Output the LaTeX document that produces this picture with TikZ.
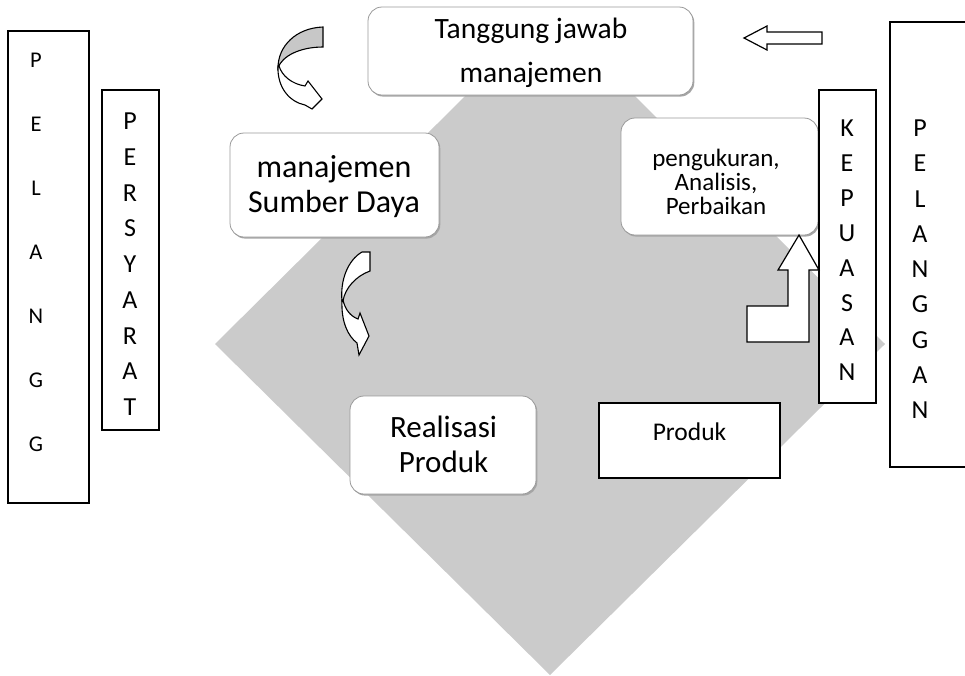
\documentclass[tikz,border=0pt]{standalone}
\usepackage{fontspec}
\setmainfont{Carlito}
\definecolor{plategray}{RGB}{203,203,203}
\begin{document}
\begin{tikzpicture}[x=1pt,y=-1pt,
  softbox/.style={rectangle, rounded corners=14pt, fill=white, draw=black!40,
    line width=0.8pt, inner sep=0pt, outer sep=0pt,
    preaction={fill=black!35, transform canvas={xshift=1.3pt,yshift=-1.6pt}}},
  hardbox/.style={rectangle, fill=white, draw=black, line width=1.4pt,
    inner sep=0pt, outer sep=0pt},
  % multi-line texts are placed by the baseline of their last line
  txt/.style={anchor=base, align=center, inner sep=0pt},
  blockarrow/.style={fill=white, draw=black, line width=1.2pt, line join=miter},
  backband/.style={fill=black!22, draw=black, line width=1.1pt},
  frontband/.style={fill=white, draw=black, line width=1.1pt}
]
\useasboundingbox (0,0) rectangle (965,675);

% central grey diamond
\fill[plategray] (215,344) -- (550,12) -- (885,344) -- (550,675) -- cycle;

% process boxes
\node[softbox, minimum width=325pt, minimum height=88pt] (tj) at (530.5,51) {};
\node[softbox, minimum width=209pt, minimum height=104pt] (msd) at (334.5,185) {};
\node[softbox, minimum width=197pt, minimum height=117pt] (pap) at (719.5,176.5) {};
\node[softbox, minimum width=186pt, minimum height=98pt] (rp) at (443,445) {};
\node[hardbox, minimum width=181pt, minimum height=75pt] (prod) at (689.5,440.5) {};

\node[txt, font=\fontsize{29.5}{44}\selectfont] (tjt) at (531,82) {Tanggung jawab\\manajemen};
\node[txt, font=\fontsize{32}{35}\selectfont] (msdt) at (334,212) {manajemen\\Sumber Daya};
\node[txt, font=\fontsize{25}{24}\selectfont] (papt) at (716,214) {pengukuran,\\Analisis,\\Perbaikan};
\node[txt, font=\fontsize{31}{35}\selectfont] (rpt) at (443.5,472) {Realisasi\\Produk};
\node[txt, font=\fontsize{25.5}{30}\selectfont] (prodt) at (689.5,440) {Produk};

% side columns
\node[hardbox, minimum width=81pt, minimum height=472pt] (pelL) at (48.5,267) {};
\node[hardbox, minimum width=57pt, minimum height=340pt] (syarat) at (130.5,260) {};
\node[hardbox, minimum width=57pt, minimum height=313pt] (puas) at (847.5,246.5) {};
\node[hardbox, minimum width=78pt, minimum height=445pt] (pelR) at (929,244.5) {};

\node[txt, font=\fontsize{22.5}{64}\selectfont] (pelLt) at (36,451) {P\\E\\L\\A\\N\\G\\G};
\node[txt, font=\fontsize{26}{35.75}\selectfont] (syaratt) at (130,415.5) {P\\E\\R\\S\\Y\\A\\R\\A\\T};
\node[txt, font=\fontsize{26}{34.9}\selectfont] (puast) at (847,380.8) {K\\E\\P\\U\\A\\S\\A\\N};
\node[txt, font=\fontsize{26}{35.25}\selectfont] (pelRt) at (920,418.5) {P\\E\\L\\A\\N\\G\\G\\A\\N};

% block arrow pointing left toward the top box
\draw[blockarrow] (744,38) -- (767,26) -- (767,32) -- (822,32) -- (822,44)
  -- (767,44) -- (767,50) -- cycle;

% bent arrow rising into the measurement box
\draw[blockarrow] (799,235) -- (819,270) -- (809,270) -- (809,342) -- (747,342)
  -- (747,306) -- (788,306) -- (788,270) -- (778,270) -- cycle;

% curved arrow from the top box down to resources
\draw[backband] (323,27) .. controls (296,28) and (278,46) .. (278,68)
  .. controls (282,56) and (300,47) .. (323,47) -- cycle;
\draw[frontband] (278,66) .. controls (277,88) and (290,102) .. (305,105)
  -- (312,109) -- (322,99) -- (308,81) -- (305,86)
  .. controls (292,84) and (282,76) .. (279,66) -- cycle;

% curved arrow from resources down to realisation
\draw[frontband] (362,252) -- (370,252) -- (370,271)
  .. controls (356,276) and (345,288) .. (343,301)
  -- (342,301) .. controls (340,280) and (348,260) .. (362,252) -- cycle;
\draw[frontband] (342,300) .. controls (341,322) and (348,336) .. (357,343)
  -- (359,355) -- (369,336) -- (360,313) -- (358,319)
  .. controls (350,316) and (345,309) .. (343,300) -- cycle;
\end{tikzpicture}
\end{document}
